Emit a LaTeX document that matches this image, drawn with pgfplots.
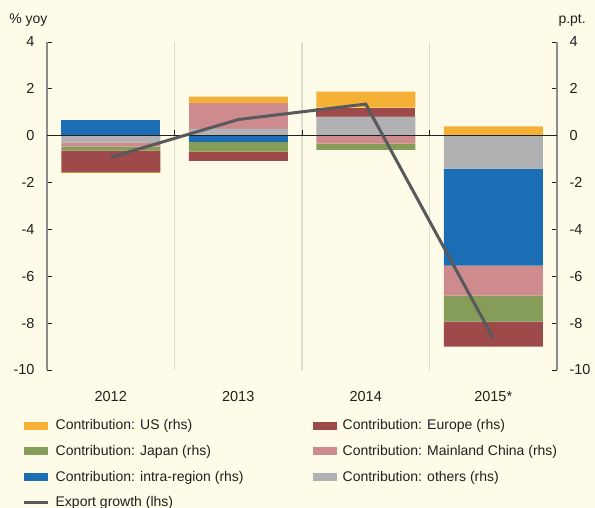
\documentclass[border=0pt]{standalone}
\usepackage{fontspec}
\setmainfont{Liberation Sans}
\usepackage{pgfplots}
\usepackage{pgfplotstable}
\pgfplotsset{compat=1.18}
\definecolor{bgc}{HTML}{FEFBE8}
\definecolor{usc}{HTML}{F4B135}
\definecolor{euc}{HTML}{9E4A4B}
\definecolor{jpc}{HTML}{869D5A}
\definecolor{cnc}{HTML}{CD8B8E}
\definecolor{irc}{HTML}{1B6EB4}
\definecolor{otc}{HTML}{B1B1B4}
\definecolor{linec}{HTML}{58595B}
\definecolor{axisc}{HTML}{8C8C8C}
\definecolor{gridc}{HTML}{DDDBD0}
\definecolor{textc}{HTML}{231F20}
\pgfplotsset{
  base/.style={at={(47bp,138bp)}, anchor=south west, scale only axis,
    width=510bp, height=328bp, xmin=-0.5, xmax=3.5, ymin=-10, ymax=4},
  barleg/.style={legend image code/.code={\fill[##1, draw=none] (0bp,-4bp) rectangle (24bp,4bp);}},
  linleg/.style={legend image code/.code={\draw[##1] (0bp,0bp) -- (24bp,0bp);}},
}
% positive parts of the contributions (stack order from zero: others, intra, China, Japan, Europe, US)
\pgfplotstableread{
x others intra china japan europe us
0 0    0.68 0    0 0    0
1 0.30 0    1.09 0 0    0.28
2 0.81 0    0    0 0.39 0.68
3 0    0    0    0 0    0.40
}\pos
% negative parts
\pgfplotstableread{
x others intra china japan europe us
0 -0.28 0     -0.19 -0.17 -0.92 -0.04
1 0     -0.26 0     -0.42 -0.39 0
2 0     0     -0.34 -0.26 0     0
3 -1.41 -4.14 -1.28 -1.11 -1.06 0
}\neg
\pgfplotstableread{
x y
0 -0.92
1 0.69
2 1.35
3 -8.64
}\exports
\begin{document}
\begin{tikzpicture}
\fill[bgc] (0,0) rectangle (595bp,508bp);
\useasboundingbox (0,0) rectangle (595bp,508bp);
% axis A: frame, grid, left axis, labels, legend
\begin{axis}[base,
  axis y line*=left, axis x line*=bottom,
  x axis line style={draw=none},
  y axis line style={draw=axisc, line width=1.3bp},
  xtick={0,1,2,3}, xticklabels={2012,2013,2014,2015*},
  x tick style={draw=none},
  ytick={-10,-8,-6,-4,-2,0,2,4},
  y tick style={draw=textc, line width=0.8bp},
  tick align=inside, major tick length=5bp,
  tick label style={font=\fontsize{14.5bp}{16bp}\selectfont, text=textc},
  /pgf/number format/assume math mode=true,
  yticklabel style={xshift=-9bp},
  xticklabel style={yshift=-18bp},
  legend columns=2, legend cell align=left,
  legend style={at={(axis description cs:-0.053,-0.139)}, anchor=north west,
    draw=none, fill=none, font=\fontsize{14bp}{16bp}\selectfont, text=textc,
    row sep=10bp,
    /tikz/column 1/.style={column sep=4bp},
    /tikz/column 2/.style={column sep=67bp},
    /tikz/column 3/.style={column sep=4bp}},
  clip=false]
\draw[gridc, line width=1.2bp] (axis cs:0.5,-10) -- (axis cs:0.5,4);
\draw[gridc, line width=1.2bp] (axis cs:1.5,-10) -- (axis cs:1.5,4);
\draw[gridc, line width=1.2bp] (axis cs:2.5,-10) -- (axis cs:2.5,4);
\node[anchor=base east, xshift=4bp, yshift=18bp, font=\fontsize{14bp}{16bp}\selectfont, text=textc] at (axis description cs:0,1) {\% yoy};
\node[anchor=base west, xshift=-2bp, yshift=18bp, font=\fontsize{14bp}{16bp}\selectfont, text=textc] at (axis description cs:1,1) {p.pt.};
\addlegendimage{barleg, fill=usc}
\addlegendentry{Contribution: US (rhs)}
\addlegendimage{barleg, fill=euc}
\addlegendentry{Contribution: Europe (rhs)}
\addlegendimage{barleg, fill=jpc}
\addlegendentry{Contribution: Japan (rhs)}
\addlegendimage{barleg, fill=cnc}
\addlegendentry{Contribution: Mainland China (rhs)}
\addlegendimage{barleg, fill=irc}
\addlegendentry{Contribution: intra-region (rhs)}
\addlegendimage{barleg, fill=otc}
\addlegendentry{Contribution: others (rhs)}
\addlegendimage{linleg, draw=linec, line width=2.5bp}
\addlegendentry{Export growth (lhs)}
\end{axis}
% axis B: negative stack + right axis
\begin{axis}[base, ybar stacked, bar width=99bp,
  axis x line=none, axis y line*=right,
  y axis line style={draw=axisc, line width=1.3bp},
  ytick={-10,-8,-6,-4,-2,0,2,4},
  y tick style={draw=textc, line width=0.8bp},
  tick align=inside, major tick length=5bp,
  tick label style={font=\fontsize{14.5bp}{16bp}\selectfont, text=textc},
  /pgf/number format/assume math mode=true,
  yticklabel style={xshift=9bp}]
\addplot[fill=otc, draw=none] table[x=x, y=others] {\neg};
\addplot[fill=irc, draw=none] table[x=x, y=intra] {\neg};
\addplot[fill=cnc, draw=none] table[x=x, y=china] {\neg};
\addplot[fill=jpc, draw=none] table[x=x, y=japan] {\neg};
\addplot[fill=euc, draw=none] table[x=x, y=europe] {\neg};
\addplot[fill=usc, draw=none] table[x=x, y=us] {\neg};
\end{axis}
% axis C: positive stack
\begin{axis}[base, ybar stacked, bar width=99bp, hide axis]
\addplot[fill=otc, draw=none] table[x=x, y=others] {\pos};
\addplot[fill=irc, draw=none] table[x=x, y=intra] {\pos};
\addplot[fill=cnc, draw=none] table[x=x, y=china] {\pos};
\addplot[fill=jpc, draw=none] table[x=x, y=japan] {\pos};
\addplot[fill=euc, draw=none] table[x=x, y=europe] {\pos};
\addplot[fill=usc, draw=none] table[x=x, y=us] {\pos};
\end{axis}
% axis D: zero line and export growth line
\begin{axis}[base, hide axis, clip=false]
\draw[textc, line width=1bp] (axis cs:-0.5,0) -- (axis cs:3.5,0);
\draw[textc, line width=0.8bp] (axis cs:0.5,0) -- ++(0pt,6bp);
\draw[textc, line width=0.8bp] (axis cs:1.5,0) -- ++(0pt,6bp);
\draw[textc, line width=0.8bp] (axis cs:2.5,0) -- ++(0pt,6bp);
\addplot[linec, line width=3bp, mark=none] table[x=x, y=y] {\exports};
\end{axis}
\end{tikzpicture}
\end{document}
